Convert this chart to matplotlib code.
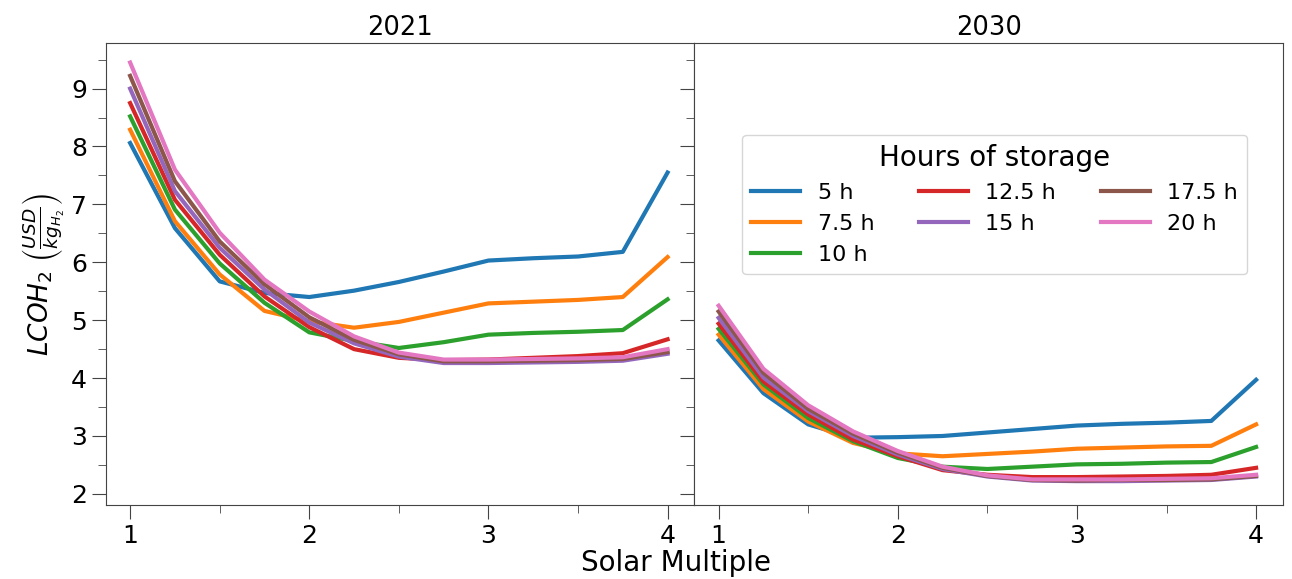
import matplotlib
matplotlib.use("Agg")
import matplotlib.pyplot as plt
from matplotlib.ticker import MultipleLocator

# solar multiple values
solar_multiple = [1, 1.25, 1.5, 1.75, 2, 2.25, 2.5, 2.75, 3, 3.25, 3.5, 3.75, 4]

storage_labels = ["5 h", "7.5 h", "10 h", "12.5 h", "15 h", "17.5 h", "20 h"]

# LCOH2 for 2021, one list per hours of storage
lcoh_2021_5h = [8.06, 6.59, 5.67, 5.47, 5.40, 5.51, 5.66, 5.84, 6.03, 6.07, 6.10, 6.18, 7.55]
lcoh_2021_7h = [8.29, 6.71, 5.79, 5.16, 4.98, 4.87, 4.97, 5.13, 5.29, 5.32, 5.35, 5.40, 6.09]
lcoh_2021_10h = [8.52, 6.91, 5.98, 5.30, 4.79, 4.64, 4.52, 4.62, 4.75, 4.78, 4.80, 4.83, 5.36]
lcoh_2021_12h = [8.75, 7.08, 6.13, 5.41, 4.88, 4.50, 4.35, 4.31, 4.32, 4.35, 4.38, 4.43, 4.67]
lcoh_2021_15h = [9.00, 7.23, 6.25, 5.53, 4.96, 4.60, 4.37, 4.26, 4.26, 4.27, 4.28, 4.30, 4.42]
lcoh_2021_17h = [9.22, 7.40, 6.36, 5.62, 5.05, 4.66, 4.41, 4.29, 4.29, 4.30, 4.31, 4.33, 4.45]
lcoh_2021_20h = [9.45, 7.60, 6.51, 5.70, 5.15, 4.72, 4.44, 4.32, 4.32, 4.33, 4.34, 4.36, 4.50]

# LCOH2 for 2030
lcoh_2030_5h = [4.65, 3.74, 3.20, 2.97, 2.98, 3.00, 3.06, 3.12, 3.18, 3.21, 3.23, 3.26, 3.97]
lcoh_2030_7h = [4.75, 3.81, 3.25, 2.88, 2.70, 2.65, 2.69, 2.73, 2.78, 2.80, 2.82, 2.83, 3.20]
lcoh_2030_10h = [4.85, 3.89, 3.31, 2.91, 2.62, 2.47, 2.43, 2.47, 2.51, 2.52, 2.54, 2.55, 2.81]
lcoh_2030_12h = [4.94, 3.94, 3.37, 2.94, 2.65, 2.41, 2.33, 2.29, 2.29, 2.30, 2.31, 2.33, 2.45]
lcoh_2030_15h = [5.04, 4.01, 3.43, 3.00, 2.68, 2.43, 2.30, 2.23, 2.22, 2.22, 2.23, 2.24, 2.30]
lcoh_2030_17h = [5.15, 4.09, 3.47, 3.04, 2.71, 2.45, 2.31, 2.24, 2.23, 2.24, 2.24, 2.25, 2.31]
lcoh_2030_20h = [5.25, 4.16, 3.53, 3.08, 2.74, 2.47, 2.32, 2.25, 2.25, 2.25, 2.26, 2.27, 2.33]

data_2021 = [lcoh_2021_5h, lcoh_2021_7h, lcoh_2021_10h, lcoh_2021_12h,
             lcoh_2021_15h, lcoh_2021_17h, lcoh_2021_20h]
data_2030 = [lcoh_2030_5h, lcoh_2030_7h, lcoh_2030_10h, lcoh_2030_12h,
             lcoh_2030_15h, lcoh_2030_17h, lcoh_2030_20h]

fig, axes = plt.subplots(1, 2, figsize=(12.92, 5.79), dpi=100, sharey=True)
fig.subplots_adjust(left=0.082, right=0.993, top=0.926, bottom=0.128, wspace=0)

for ax, year, data in zip(axes, ["2021", "2030"], [data_2021, data_2030]):
    for values, label in zip(data, storage_labels):
        ax.plot(solar_multiple, values, linewidth=3, label=label)
    ax.set_title(year, fontsize=18.5)
    ax.set_xlim(0.865, 4.15)
    ax.xaxis.set_major_locator(MultipleLocator(1))
    ax.xaxis.set_minor_locator(MultipleLocator(0.5))
    ax.yaxis.set_major_locator(MultipleLocator(1))
    ax.yaxis.set_minor_locator(MultipleLocator(0.5))
    ax.tick_params(which="major", length=10, labelsize=18, color="#444444")
    ax.tick_params(which="minor", length=6, color="#444444")
    for s in ax.spines.values():
        s.set_color("#444444")

axes[0].set_ylim(1.81, 9.79)
axes[0].set_ylabel(r"$LCOH_2\ \left(\frac{USD}{kg_{H_2}}\right)$", fontsize=19)
fig.supxlabel("Solar Multiple", fontsize=20, x=0.523, y=0.003)

axes[1].legend(title="Hours of storage", ncol=3, fontsize=16, title_fontsize=20,
               handlelength=2.2, loc="center", bbox_to_anchor=(0.51, 0.65))

plt.savefig("out.png", dpi=100)
